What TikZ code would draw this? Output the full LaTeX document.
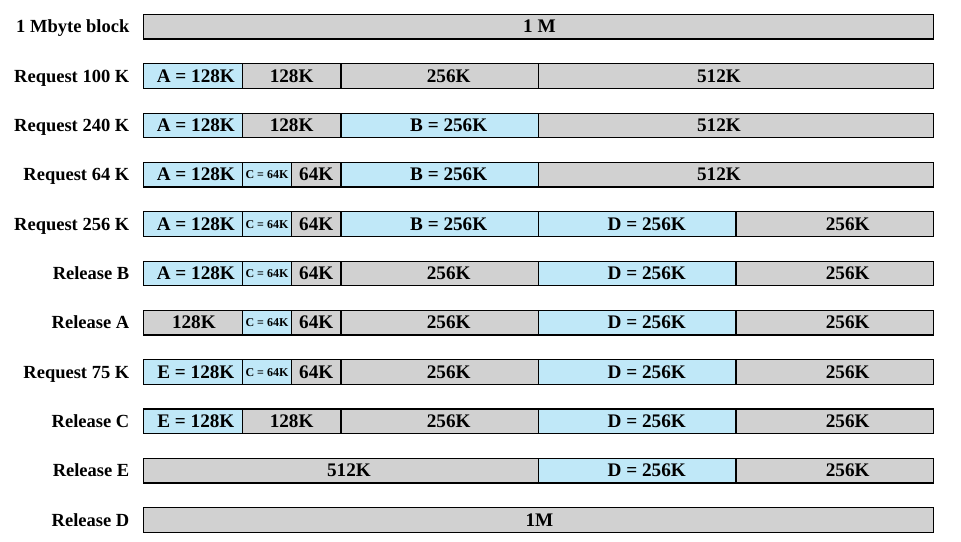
\documentclass[tikz,border=0pt]{standalone}
\usepackage{fontspec}
\setmainfont{Liberation Serif}
\definecolor{usedblue}{RGB}{192,232,248}
\definecolor{freegray}{RGB}{209,209,209}
\tikzset{
  seg/.style={draw=black, line width=1.2pt, rectangle, inner sep=0pt,
    minimum height=24.5pt, text height=12pt, text depth=0pt,
    font=\fontsize{19.2}{20}\selectfont\bfseries},
  used/.style={seg, fill=usedblue},
  free/.style={seg, fill=freegray},
  small/.style={font=\fontsize{12}{12}\selectfont\bfseries, text height=8pt},
  lbl/.style={inner sep=0pt, anchor=base east, font=\fontsize{18.5}{20}\selectfont\bfseries},
}
% #1 name, #2 row, #3 start (K), #4 size (K), #5 style, #6 text, #7 text offset
\newcommand\seg[7]{\node[#5, minimum width={0.771484pt*#4}] (#1) at ({143.5pt+0.771484pt*(#3+#4/2)}, {-26.7pt-49.33pt*#2}) {\hspace*{#7}\hspace*{#7}#6};}
\newcommand\lab[3]{\node[lbl] (#1) at (129.5pt, {-32.7pt-49.33pt*#2}) {#3};}
\begin{document}
\begin{tikzpicture}
\useasboundingbox (0,0) rectangle (961pt,-541pt);
% row 0
\lab{l0}{0}{1 Mbyte block}
\seg{r0a}{0}{0}{1024}{free}{1 M}{1pt}
% row 1
\lab{l1}{1}{Request 100 K}
\seg{r1a}{1}{0}{128}{used}{A = 128K}{3pt}
\seg{r1b}{1}{128}{128}{free}{128K}{0pt}
\seg{r1c}{1}{256}{256}{free}{256K}{9pt}
\seg{r1d}{1}{512}{512}{free}{512K}{-17pt}
% row 2
\lab{l2}{2}{Request 240 K}
\seg{r2a}{2}{0}{128}{used}{A = 128K}{3pt}
\seg{r2b}{2}{128}{128}{free}{128K}{0pt}
\seg{r2c}{2}{256}{256}{used}{B = 256K}{9pt}
\seg{r2d}{2}{512}{512}{free}{512K}{-17pt}
% row 3
\lab{l3}{3}{Request 64 K}
\seg{r3a}{3}{0}{128}{used}{A = 128K}{3pt}
\seg{r3b}{3}{128}{64}{used,small}{C = 64K}{0pt}
\seg{r3c}{3}{192}{64}{free}{64K}{0pt}
\seg{r3d}{3}{256}{256}{used}{B = 256K}{9pt}
\seg{r3e}{3}{512}{512}{free}{512K}{-17pt}
% row 4
\lab{l4}{4}{Request 256 K}
\seg{r4a}{4}{0}{128}{used}{A = 128K}{3pt}
\seg{r4b}{4}{128}{64}{used,small}{C = 64K}{0pt}
\seg{r4c}{4}{192}{64}{free}{64K}{0pt}
\seg{r4d}{4}{256}{256}{used}{B = 256K}{9pt}
\seg{r4e}{4}{512}{256}{used}{D = 256K}{9.5pt}
\seg{r4f}{4}{768}{256}{free}{256K}{13pt}
% row 5
\lab{l5}{5}{Release B}
\seg{r5a}{5}{0}{128}{used}{A = 128K}{3pt}
\seg{r5b}{5}{128}{64}{used,small}{C = 64K}{0pt}
\seg{r5c}{5}{192}{64}{free}{64K}{0pt}
\seg{r5d}{5}{256}{256}{free}{256K}{9pt}
\seg{r5e}{5}{512}{256}{used}{D = 256K}{9.5pt}
\seg{r5f}{5}{768}{256}{free}{256K}{13pt}
% row 6
\lab{l6}{6}{Release A}
\seg{r6a}{6}{0}{128}{free}{128K}{1pt}
\seg{r6b}{6}{128}{64}{used,small}{C = 64K}{0pt}
\seg{r6c}{6}{192}{64}{free}{64K}{0pt}
\seg{r6d}{6}{256}{256}{free}{256K}{9pt}
\seg{r6e}{6}{512}{256}{used}{D = 256K}{9.5pt}
\seg{r6f}{6}{768}{256}{free}{256K}{13pt}
% row 7
\lab{l7}{7}{Request 75 K}
\seg{r7a}{7}{0}{128}{used}{E = 128K}{3pt}
\seg{r7b}{7}{128}{64}{used,small}{C = 64K}{0pt}
\seg{r7c}{7}{192}{64}{free}{64K}{0pt}
\seg{r7d}{7}{256}{256}{free}{256K}{9pt}
\seg{r7e}{7}{512}{256}{used}{D = 256K}{9.5pt}
\seg{r7f}{7}{768}{256}{free}{256K}{13pt}
% row 8
\lab{l8}{8}{Release C}
\seg{r8a}{8}{0}{128}{used}{E = 128K}{3pt}
\seg{r8b}{8}{128}{128}{free}{128K}{0pt}
\seg{r8d}{8}{256}{256}{free}{256K}{9pt}
\seg{r8e}{8}{512}{256}{used}{D = 256K}{9.5pt}
\seg{r8f}{8}{768}{256}{free}{256K}{13pt}
% row 9
\lab{l9}{9}{Release E}
\seg{r9a}{9}{0}{512}{free}{512K}{8pt}
\seg{r9e}{9}{512}{256}{used}{D = 256K}{9.5pt}
\seg{r9f}{9}{768}{256}{free}{256K}{13pt}
% row 10
\lab{l10}{10}{Release D}
\seg{r10a}{10}{0}{1024}{free}{1M}{1pt}
\end{tikzpicture}
\end{document}
